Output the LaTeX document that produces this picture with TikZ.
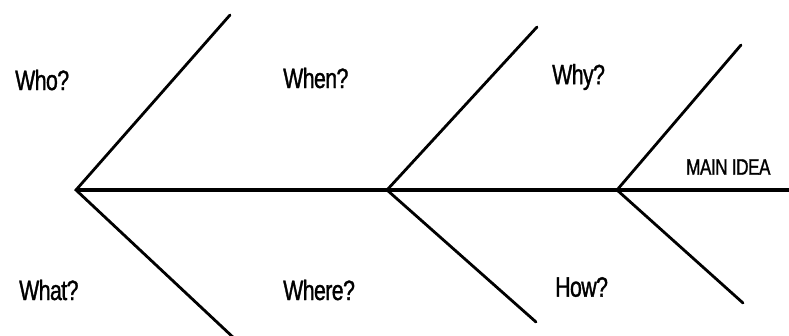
\documentclass[tikz,border=0pt]{standalone}
\usepackage{fontspec}
\setmainfont{Liberation Sans}[FakeStretch=0.76, FakeBold=1.2, LetterSpace=-2]
\usetikzlibrary{positioning}

\begin{document}
\begin{tikzpicture}[
    x=1pt, y=-1pt,
    bone/.style={line width=2.8pt, black, line cap=round},
    spine/.style={line width=3.6pt, black},
    qlabel/.style={font=\fontsize{28}{30}\selectfont, anchor=west, inner sep=0pt},
    idea/.style={font=\fontsize{22.5}{24}\selectfont, anchor=west, inner sep=0pt}
  ]
    \useasboundingbox (0,0) rectangle (789,336);

    % Spine and joints
    \coordinate (j1)   at (76,190);
    \coordinate (j2)   at (387,190);
    \coordinate (j3)   at (617,190);
    \coordinate (head) at (789,190);

    % Bone ends
    \coordinate (u1) at (230,15);
    \coordinate (d1) at (236,340);
    \coordinate (u2) at (537,27);
    \coordinate (d2) at (536,322);
    \coordinate (u3) at (741,45);
    \coordinate (d3) at (743,303);

    % Labels
    \node[qlabel] (who)   at (15,80)   {Who?};
    \node[qlabel] (when)  at (283,78)  {When?};
    \node[qlabel] (why)   at (552,77)  {Why?};
    \node[qlabel] (what)  at (19,290)  {What?};
    \node[qlabel] (where) at (283,290) {Where?};
    \node[qlabel] (how)   at (555,287) {How?};
    \node[idea]   (main)  at (686,167) {MAIN IDEA};

    % Lines
    \draw[spine] (j1) -- (head);
    \draw[bone] (u1) -- (j1) -- (d1);
    \draw[bone] (u2) -- (j2) -- (d2);
    \draw[bone] (u3) -- (j3) -- (d3);

  \end{tikzpicture}
\end{document}
